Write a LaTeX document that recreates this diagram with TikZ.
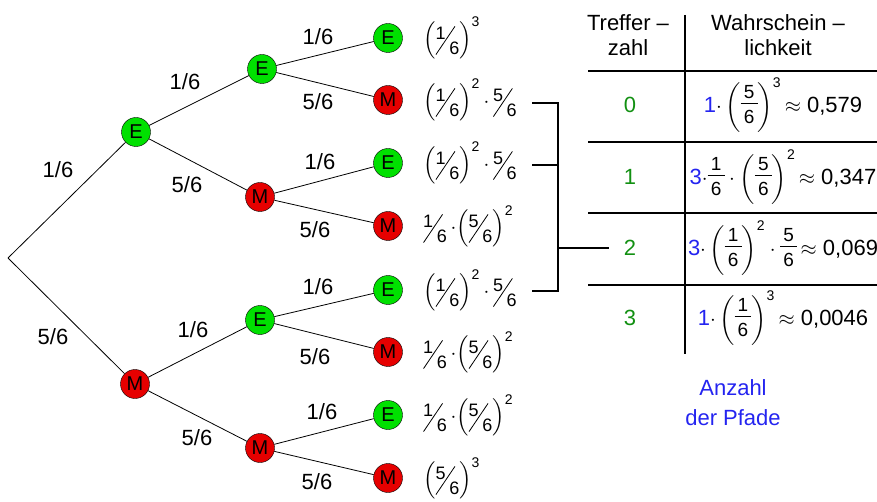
\documentclass[tikz,border=0pt]{standalone}
\usepackage{amsmath}
\usepackage{graphicx}
\usepackage{xcolor}
\usepackage{fontspec}
\setmainfont{Liberation Sans}
\usetikzlibrary{positioning}
\definecolor{hit}{HTML}{00E000}
\definecolor{miss}{HTML}{E60000}
\definecolor{numgreen}{HTML}{129012}
\definecolor{pathblue}{HTML}{2424F0}
\newcommand{\fsm}{\fontsize{18}{18}\selectfont}
\newcommand{\ffr}{\fontsize{19}{19}\selectfont}
\newcommand{\fex}{\fontsize{14}{14}\selectfont}
\newcommand{\sfr}[2]{\raisebox{6pt}{\fsm#1}\kern-10pt\raisebox{-9.5pt}{\rotatebox{56}{\rule{34pt}{0.8pt}}}\kern-6pt\raisebox{-9.5pt}{\fsm#2}}
\newcommand{\pw}[2]{$\left(\mbox{#1}\right)^{\mbox{\fex#2}}$}
\newcommand{\tfr}[2]{\vcenter{\hbox{\ffr\setlength{\arrayrulewidth}{0.8pt}\begin{tabular}{@{\,}c@{\,}}#1\\[-1pt]\hline\rule{0pt}{19pt}#2\end{tabular}}}}
\newcommand{\bg}[3]{\left(\tfr{#1}{#2}\right)^{\mbox{\fex#3}}}
\newcommand{\ct}[1]{\mbox{\color{pathblue}#1}}
\begin{document}
\begin{tikzpicture}[x=1pt,y=-1pt,
  hitnode/.style={circle,draw,fill=hit,minimum size=29pt,inner sep=0pt,font=\fontsize{20}{20}\selectfont},
  missnode/.style={hitnode,fill=miss},
  branch/.style={line width=0.8pt},
  lab/.style={font=\fontsize{22}{26}\selectfont,inner sep=1pt},
  expr/.style={font=\fontsize{22}{26}\selectfont,inner sep=0pt,anchor=west},
  tabline/.style={line width=1.4pt}]
  \useasboundingbox (0,0) rectangle (877,502);
  % tree
  \coordinate (r) at (8,258);
  \node[hitnode] (e) at (136,132) {E};
  \node[missnode] (m) at (135,384) {M};
  \node[hitnode] (ee) at (262,69) {E};
  \node[missnode] (em) at (260,197) {M};
  \node[hitnode] (me) at (260,320) {E};
  \node[missnode] (mm) at (260,448) {M};
  % leaves and path products
  \foreach \n/\s/\c/\y/\t in {
      eee/hitnode/E/38/{\pw{\sfr16}{3}},
      eem/missnode/M/100/{\pw{\sfr16}{2}\,$\cdot$\,\sfr56},
      eme/hitnode/E/163/{\pw{\sfr16}{2}\,$\cdot$\,\sfr56},
      emm/missnode/M/226/{\sfr16\,$\cdot$\pw{\sfr56}{2}},
      mee/hitnode/E/290/{\pw{\sfr16}{2}\,$\cdot$\,\sfr56},
      mem/missnode/M/352/{\sfr16\,$\cdot$\pw{\sfr56}{2}},
      mme/hitnode/E/415/{\sfr16\,$\cdot$\pw{\sfr56}{2}},
      mmm/missnode/M/478/{\pw{\sfr56}{3}}}{
    \node[\s] (\n) at (388,\y) {\c};
    \node[expr] (x-\n) at (423,\y) {\t};
  }
  % branches with probabilities
  \foreach \a/\b/\p/\lx/\ly in {
      r/e/{1/6}/58/170, r/m/{5/6}/53/337,
      e/ee/{1/6}/185/82, e/em/{5/6}/187/185,
      m/me/{1/6}/193/330, m/mm/{5/6}/197/438,
      ee/eee/{1/6}/318/37, ee/eem/{5/6}/318/102,
      em/eme/{1/6}/320/162, em/emm/{5/6}/315/230,
      me/mee/{1/6}/318/287, me/mem/{5/6}/315/357,
      mm/mme/{1/6}/322/412, mm/mmm/{5/6}/317/482}{
    \draw[branch] (\a) -- (\b);
    \node[lab] (l-\b) at (\lx,\ly) {\p};
  }
  % table
  \draw[tabline] (685,15) -- (685,354);
  \foreach \y in {71,142,213,285}
    \draw[tabline] (588,\y) -- (877,\y);
  \node[lab,align=center,font=\fontsize{22}{25}\selectfont] (h1) at (628,35) {Treffer --\\zahl};
  \node[lab,align=center,font=\fontsize{22}{25}\selectfont] (h2) at (778,35) {Wahrschein --\\lichkeit};
  \foreach \i/\y/\t in {
      0/105/{\ct{1}$\cdot\bg{5}{6}{3}$\,$\approx$ 0,579},
      1/177/{\ct{3}$\cdot\tfr16\cdot\bg{5}{6}{2}$\,$\approx$ 0,347},
      2/248/{\ct{3}$\cdot\bg{1}{6}{2}\cdot\tfr56$\,$\approx$ 0,069},
      3/318/{\ct{1}$\cdot\bg{1}{6}{3}$\,$\approx$ 0,0046}}{
    \node[lab,text=numgreen] (n\i) at (630,\y) {\i};
    \node[lab] (p\i) at (783,\y) {\t};
  }
  \node[lab,align=center,text=pathblue,font=\fontsize{22}{30}\selectfont] (paths) at (733,403) {Anzahl\\der Pfade};
  % bracket
  \coordinate (b2) at (532,103);
  \coordinate (b3) at (532,165);
  \coordinate (b5) at (532,291);
  \coordinate (j) at (558,248);
  \draw[line width=1.2pt] (b2) -| (j) (b3) -| (j) (b5) -| (j);
  \draw[line width=1.2pt] (j) -- ([xshift=-14pt]n2.west);
\end{tikzpicture}
\end{document}
